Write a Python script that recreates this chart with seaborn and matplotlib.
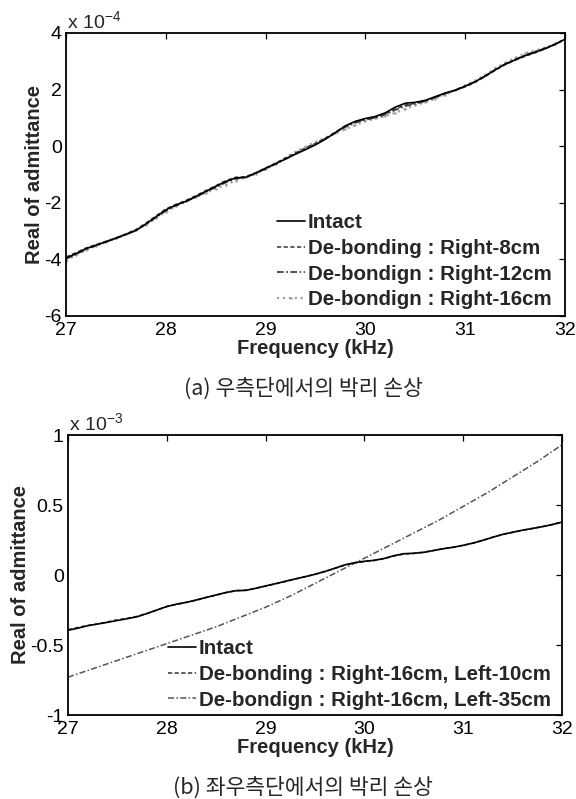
import numpy as np
import pandas as pd
import matplotlib
matplotlib.use("Agg")
import matplotlib.pyplot as plt
import seaborn as sns

# ---------------- data ----------------
freq = np.round(np.arange(27.0, 32.001, 0.1), 1)  # kHz

# (a) values in units of 1e-4
intact = [-3.95, -3.80, -3.62, -3.50, -3.38, -3.25, -3.12, -2.98, -2.75, -2.50,
          -2.25, -2.08, -1.95, -1.78, -1.60, -1.42, -1.25, -1.12, -1.10, -0.95,
          -0.78, -0.62, -0.45, -0.28, -0.12, 0.05, 0.25, 0.48, 0.72, 0.88,
          0.98, 1.05, 1.18, 1.38, 1.52, 1.55, 1.62, 1.75, 1.88, 1.98,
          2.12, 2.28, 2.48, 2.70, 2.90, 3.05, 3.20, 3.32, 3.45, 3.60, 3.78]
right8 = [-3.92, -3.76, -3.60, -3.48, -3.36, -3.24, -3.10, -2.95, -2.72, -2.47,
          -2.22, -2.06, -1.92, -1.75, -1.57, -1.40, -1.22, -1.10, -1.08, -0.94,
          -0.77, -0.60, -0.42, -0.24, -0.06, 0.10, 0.28, 0.50, 0.72, 0.86,
          0.95, 1.02, 1.14, 1.32, 1.46, 1.52, 1.60, 1.73, 1.86, 1.97,
          2.10, 2.26, 2.46, 2.68, 2.88, 3.04, 3.18, 3.30, 3.44, 3.59, 3.77]
right12 = [-3.98, -3.82, -3.64, -3.51, -3.38, -3.26, -3.12, -2.97, -2.76, -2.52,
           -2.28, -2.10, -1.96, -1.80, -1.62, -1.45, -1.28, -1.15, -1.10, -0.96,
           -0.80, -0.63, -0.45, -0.27, -0.10, 0.08, 0.27, 0.48, 0.68, 0.83,
           0.93, 1.01, 1.12, 1.28, 1.42, 1.50, 1.59, 1.72, 1.86, 1.98,
           2.12, 2.28, 2.48, 2.70, 2.90, 3.06, 3.22, 3.34, 3.46, 3.61, 3.78]
right16 = [-4.05, -3.85, -3.68, -3.52, -3.38, -3.25, -3.10, -2.95, -2.78, -2.55,
           -2.32, -2.12, -1.95, -1.80, -1.65, -1.50, -1.36, -1.22, -1.10, -0.98,
           -0.82, -0.62, -0.40, -0.20, -0.02, 0.15, 0.30, 0.45, 0.60, 0.75,
           0.88, 0.98, 1.06, 1.18, 1.32, 1.45, 1.55, 1.68, 1.82, 1.98,
           2.15, 2.32, 2.52, 2.75, 2.95, 3.12, 3.28, 3.38, 3.48, 3.62, 3.78]

# (b) values in units of 1e-3
intact_b = [v / 10.0 for v in intact]
r16_l10 = [-0.39, -0.375, -0.36, -0.35, -0.335, -0.32, -0.31, -0.295, -0.275, -0.25,
           -0.225, -0.21, -0.195, -0.18, -0.16, -0.145, -0.125, -0.112, -0.108, -0.095,
           -0.08, -0.063, -0.046, -0.029, -0.012, 0.005, 0.025, 0.047, 0.07, 0.086,
           0.096, 0.104, 0.117, 0.136, 0.15, 0.155, 0.162, 0.175, 0.188, 0.199,
           0.212, 0.228, 0.248, 0.27, 0.29, 0.305, 0.32, 0.333, 0.346, 0.36, 0.378]
freq_b = [27.0, 27.25, 27.5, 27.75, 28.0, 28.25, 28.5, 28.75, 29.0, 29.25, 29.5,
          29.75, 30.0, 30.25, 30.5, 30.75, 31.0, 31.25, 31.5, 31.75, 32.0]
r16_l35 = [-0.73, -0.67, -0.61, -0.55, -0.49, -0.43, -0.37, -0.30, -0.23, -0.15, -0.06,
           0.03, 0.12, 0.21, 0.30, 0.39, 0.49, 0.59, 0.70, 0.81, 0.93]

labels_a = ["Intact", "De-bonding : Right-8cm", "De-bondign : Right-12cm", "De-bondign : Right-16cm"]
labels_b = ["Intact", "De-bonding : Right-16cm, Left-10cm", "De-bondign : Right-16cm, Left-35cm"]
xticks = [27, 28, 29, 30, 31, 32]
yticks_a = [-6, -4, -2, 0, 2, 4]
yticks_b = [-1, -0.5, 0, 0.5, 1]
yticklabels_b = ["-1", "-0.5", "0", "0.5", "1"]

# ---------------- style ----------------
sns.set_style("white")
plt.rcParams["font.family"] = ["Liberation Sans", "DejaVu Sans"]
plt.rcParams["mathtext.default"] = "regular"
kfont = ["Noto Sans CJK KR", "DejaVu Sans"]

TICK = 14
LAB = 14.5
LEG = 14.8

fig = plt.figure(figsize=(5.76, 7.99), dpi=100)
ax1 = fig.add_axes([66 / 576, 1 - 316 / 799, 499 / 576, 283 / 799])
ax2 = fig.add_axes([68 / 576, 1 - 715 / 799, 494 / 576, 280 / 799])


def style_axes(ax):
    for s in ax.spines.values():
        s.set_color("black")
        s.set_linewidth(1.3)
    ax.tick_params(direction="in", top=True, right=True, length=4, width=0.9,
                   labelsize=TICK, colors="black")
    ax.tick_params(axis="x", pad=4)
    ax.tick_params(axis="y", pad=3)
    ax.set_xlim(27, 32)
    ax.set_xticks(xticks)
    ax.set_xticklabels([str(t) for t in xticks])
    ax.set_xlabel("Frequency (kHz)", fontsize=LAB, fontweight="bold", labelpad=0.5)
    ax.set_ylabel("Real of admittance", fontsize=LAB, fontweight="bold", labelpad=0)
    ax.grid(False)


# (a)
df_a = pd.DataFrame({"f": freq, "i": intact, "r8": right8, "r12": right12, "r16": right16})
sns.lineplot(data=df_a, x="f", y="r16", ax=ax1, color="#a0a0a0", linestyle=":",
             lw=1.6, marker=".", markersize=3.5, markeredgewidth=0, label=labels_a[3])
sns.lineplot(data=df_a, x="f", y="r12", ax=ax1, color="#333333", linestyle=(0, (4, 1.5, 1, 1.5)),
             lw=1.2, label=labels_a[2])
sns.lineplot(data=df_a, x="f", y="r8", ax=ax1, color="#444444", linestyle=(0, (2.5, 1.5)),
             lw=1.2, label=labels_a[1])
sns.lineplot(data=df_a, x="f", y="i", ax=ax1, color="black", linestyle="-",
             lw=1.2, label=labels_a[0])
style_axes(ax1)
ax1.set_ylim(-6, 4)
ax1.set_yticks(yticks_a)
ax1.set_yticklabels([str(t) for t in yticks_a])
ax1.text(0.002, 1.004, r"x 10$^{-4}$", transform=ax1.transAxes, ha="left", va="bottom", fontsize=TICK)
h, l = ax1.get_legend_handles_labels()
order = [3, 2, 1, 0]
ax1.legend([h[i] for i in order], [l[i] for i in order], loc="upper left",
           bbox_to_anchor=(277 / 576, 1 - 213 / 799), bbox_transform=fig.transFigure,
           frameon=False, borderpad=0, borderaxespad=0, handlelength=1.35,
           handletextpad=0.15, labelspacing=0.33, prop={"weight": "bold", "size": LEG})

# (b)
df_b = pd.DataFrame({"f": freq, "i": intact_b, "l10": r16_l10})
df_b2 = pd.DataFrame({"f": freq_b, "l35": r16_l35})
sns.lineplot(data=df_b2, x="f", y="l35", ax=ax2, color="#555555", linestyle=(0, (4, 1.5, 1, 1.5)),
             lw=1.1, label=labels_b[2])
sns.lineplot(data=df_b, x="f", y="l10", ax=ax2, color="#444444", linestyle=(0, (2.5, 1.5)),
             lw=1.2, label=labels_b[1])
sns.lineplot(data=df_b, x="f", y="i", ax=ax2, color="black", linestyle="-",
             lw=1.2, label=labels_b[0])
style_axes(ax2)
ax2.set_ylim(-1, 1)
ax2.set_yticks(yticks_b)
ax2.set_yticklabels(yticklabels_b)
ax2.text(0.002, 1.004, r"x 10$^{-3}$", transform=ax2.transAxes, ha="left", va="bottom", fontsize=TICK)
h, l = ax2.get_legend_handles_labels()
order = [2, 1, 0]
ax2.legend([h[i] for i in order], [l[i] for i in order], loc="upper left",
           bbox_to_anchor=(168 / 576, 1 - 639 / 799), bbox_transform=fig.transFigure,
           frameon=False, borderpad=0, borderaxespad=0, handlelength=1.35,
           handletextpad=0.15, labelspacing=0.33, prop={"weight": "bold", "size": LEG})

fig.text(303 / 576, 1 - 389 / 799, "(a) 우측단에서의 박리 손상", ha="center", va="center",
         fontsize=15.5, family=kfont)
fig.text(303 / 576, 1 - 788 / 799, "(b) 좌우측단에서의 박리 손상", ha="center", va="center",
         fontsize=15.5, family=kfont)

fig.savefig("out.png", dpi=100)
